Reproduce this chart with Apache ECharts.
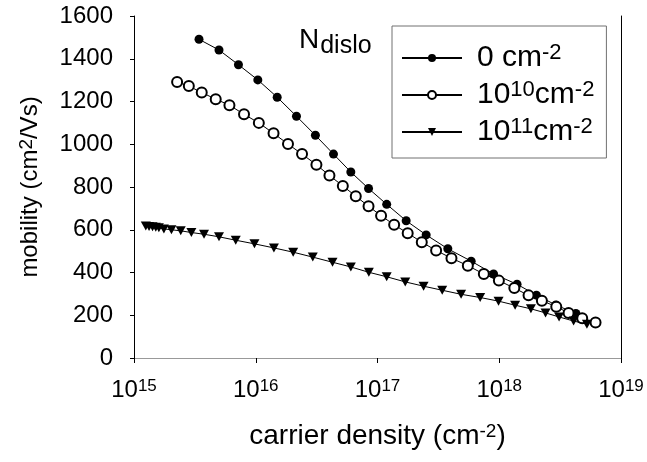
<!DOCTYPE html>
<html>
<head>
<meta charset="utf-8">
<title>mobility vs carrier density</title>
<script src="https://cdn.jsdelivr.net/npm/echarts@6/dist/echarts.min.js"></script>
<style>
  html, body { margin: 0; padding: 0; background: #fff; }
  #main { width: 647px; height: 462px; }
</style>
</head>
<body>
<div id="main"></div>
<script>
// series names (legend)
var seriesNames = ['0 cm-2', '10^10cm-2', '10^11cm-2'];

// N_dislo = 0
var densityBare = [3.42e15, 4.99e15, 7.21e15, 1.04e16, 1.50e16, 2.16e16, 3.09e16, 4.35e16, 6.04e16, 8.44e16,
  1.19e17, 1.72e17, 2.51e17, 3.78e17, 5.88e17, 8.98e17, 1.40e18, 2.02e18, 2.92e18, 4.26e18];
var mobilityBare = [1491, 1441, 1372, 1301, 1220, 1131, 1042, 954, 870, 793,
  719, 642, 576, 511, 453, 393, 345, 294, 248, 208];

// N_dislo = 1e10
var densityMid = [2.26e15, 2.82e15, 3.60e15, 4.69e15, 6.08e15, 8.01e15, 1.06e16, 1.40e16, 1.84e16, 2.40e16,
  3.15e16, 4.03e16, 5.19e16, 6.63e16, 8.44e16, 1.07e17, 1.37e17, 1.77e17, 2.31e17, 3.03e17,
  4.05e17, 5.52e17, 7.47e17, 9.93e17, 1.33e18, 1.74e18, 2.24e18, 2.94e18, 3.71e18, 4.80e18, 6.18e18];
var mobilityMid = [1291, 1272, 1242, 1211, 1183, 1140, 1100, 1051, 1001, 954,
  904, 854, 805, 757, 710, 666, 623, 584, 542, 503,
  467, 432, 393, 362, 327, 293, 268, 240, 211, 186, 166];

// N_dislo = 1e11
var densityHigh = [1.25e15, 1.33e15, 1.42e15, 1.51e15, 1.60e15, 1.76e15, 2.03e15, 2.42e15, 2.96e15, 3.76e15,
  4.99e15, 6.85e15, 9.76e15, 1.41e16, 2.03e16, 2.94e16, 4.27e16, 6.04e16, 8.49e16, 1.19e17,
  1.69e17, 2.39e17, 3.40e17, 4.86e17, 6.97e17, 9.87e17, 1.35e18, 1.82e18, 2.40e18, 3.10e18, 4.08e18, 5.25e18];
var mobilityHigh = [618, 615, 614, 612, 609, 604, 600, 595, 587, 579,
  567, 551, 534, 515, 495, 472, 448, 426, 401, 380,
  356, 336, 317, 298, 283, 266, 247, 230, 211, 192, 173, 158];

// axis ticks
var xMin = 1e15, xMax = 1e19;
var yMin = 0, yMax = 1600, yStep = 200;

function pairs(xs, ys) {
  return xs.map(function (x, i) { return [x, ys[i]]; });
}

var font = 'Liberation Sans, Arial, sans-serif';
var tickRich = {
  b: { fontSize: 24, fontFamily: font, color: '#000' },
  s: { fontSize: 17, fontFamily: font, color: '#000', verticalAlign: 'top', padding: [0, 0, 6, 0] }
};
var legendRich = {
  s: { fontSize: 22, fontFamily: font, color: '#000', verticalAlign: 'top', padding: [0, 0, 10, 0] }
};
var titleRich = {
  s: { fontSize: 19, fontFamily: font, color: '#000', verticalAlign: 'top', padding: [0, 0, 8, 0] }
};

// legend labels with superscripts
var legendText = {
  '0 cm-2': '0 cm{s|-2}',
  '10^10cm-2': '10{s|10}cm{s|-2}',
  '10^11cm-2': '10{s|11}cm{s|-2}'
};

var myChart = echarts.init(document.getElementById('main'));
myChart.setOption({
  animation: false,
  backgroundColor: '#fff',
  grid: { left: 134, right: 26, top: 16, bottom: 104 },
  legend: {
    orient: 'vertical',
    left: 392, top: 26,
    padding: [16, 12, 11, 9],
    itemGap: 6,
    itemWidth: 60, itemHeight: 10,
    borderColor: '#707070', borderWidth: 1,
    data: seriesNames,
    formatter: function (name) { return legendText[name]; },
    textStyle: { fontSize: 30, fontFamily: font, color: '#000', padding: [0, 0, 0, 10], rich: legendRich }
  },
  graphic: [{
    type: 'text', left: 299, top: 26,
    style: { text: 'N{d|dislo}', fontSize: 28, fontFamily: font, fill: '#000',
      rich: { d: { fontSize: 25, fontFamily: font, verticalAlign: 'bottom', padding: [12, 0, 0, 1] } } }
  }],
  xAxis: [{
    type: 'log', logBase: 10, min: xMin, max: xMax,
    name: 'carrier density (cm{s|-2})',
    nameLocation: 'middle', nameGap: 64,
    nameTextStyle: { fontSize: 28, fontFamily: font, color: '#000', rich: titleRich },
    axisLine: { lineStyle: { color: '#000', width: 1 } },
    axisTick: { inside: false, length: 5, lineStyle: { color: '#000' } },
    minorTick: { show: false },
    splitLine: { show: false },
    axisLabel: {
      margin: 20,
      formatter: function (v) { return '{b|10}{s|' + Math.round(Math.log10(v)) + '}'; },
      rich: tickRich
    }
  }, {
    // top frame line
    type: 'value', position: 'top', min: 0, max: 1,
    axisLine: { show: true, lineStyle: { color: '#999', width: 1 } },
    axisTick: { show: false }, axisLabel: { show: false }, splitLine: { show: false }
  }],
  yAxis: [{
    type: 'value', min: yMin, max: yMax, interval: yStep,
    name: 'mobility (cm{s|2}/Vs)',
    nameLocation: 'middle', nameGap: 90,
    nameTextStyle: { fontSize: 24, fontFamily: font, color: '#000', rich: titleRich },
    axisLine: { show: true, lineStyle: { color: '#000', width: 1 } },
    axisTick: { show: true, length: 4, lineStyle: { color: '#000' } },
    splitLine: { show: false },
    axisLabel: {
      margin: 21, fontSize: 24, fontFamily: font, color: '#000',
      formatter: function (v) { return String(v); }
    }
  }, {
    // right frame line
    type: 'value', position: 'right', min: 0, max: 1,
    axisLine: { show: true, lineStyle: { color: '#000', width: 1 } },
    axisTick: { show: false }, axisLabel: { show: false }, splitLine: { show: false }
  }],
  series: [{
    name: seriesNames[0], type: 'line',
    data: pairs(densityBare, mobilityBare),
    symbol: 'circle', symbolSize: 9,
    itemStyle: { color: '#000' },
    lineStyle: { color: '#000', width: 1 }
  }, {
    name: seriesNames[1], type: 'line',
    data: pairs(densityMid, mobilityMid),
    symbol: 'emptyCircle', symbolSize: 10,
    itemStyle: { color: '#000', borderWidth: 1 },
    lineStyle: { color: '#000', width: 1 }
  }, {
    name: seriesNames[2], type: 'line',
    data: pairs(densityHigh, mobilityHigh),
    symbol: 'triangle', symbolRotate: 180, symbolSize: [10, 9],
    itemStyle: { color: '#000' },
    lineStyle: { color: '#000', width: 1 }
  }]
});
</script>
</body>
</html>
